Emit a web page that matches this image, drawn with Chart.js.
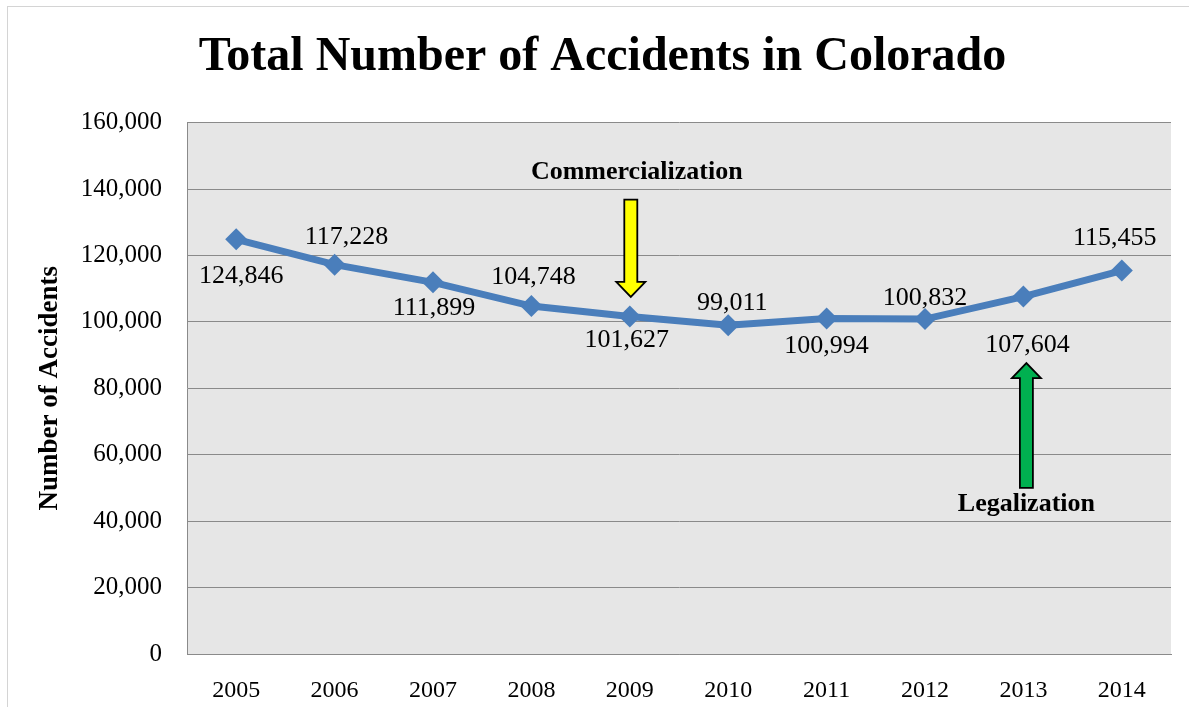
<!DOCTYPE html>
<html>
<head>
<meta charset="utf-8">
<script src="https://cdn.jsdelivr.net/npm/chart.js@4/dist/chart.umd.min.js"></script>
<style>
  html, body { margin: 0; padding: 0; background: #ffffff; }
  #wrap { width: 1189px; height: 707px; position: relative; }
</style>
</head>
<body>
<div id="wrap"><canvas id="c" width="1189" height="707"></canvas></div>
<script>
// ---- data ----
const years = ['2005', '2006', '2007', '2008', '2009', '2010', '2011', '2012', '2013', '2014'];
const accidents = [124846, 117228, 111899, 104748, 101627, 99011, 100994, 100832, 107604, 115455];
const yTicks = [0, 20000, 40000, 60000, 80000, 100000, 120000, 140000, 160000];
const chartTitle = 'Total Number of Accidents in Colorado';
const yAxisTitle = 'Number of Accidents';

// annotations: label, year it points at, arrow tail value, arrow tip value, text value
const noteLabels = ['Commercialization', 'Legalization'];
const noteYears = ['2009', '2013'];
const noteTail = [136800, 50000];
const noteTip = [107500, 87600];
const noteTextAt = [145000, 45000];

// ---- styling (not data) ----
const SERIF = '"Liberation Serif", "Times New Roman", serif';
const LINE_COLOR = '#4a7ebb';
const GRID_COLOR = '#8a8a8a';
const labelNudge = [[5, 37], [12, -27], [1, 26], [2, -29], [-3, 24], [4, -22], [0, 28], [0, -21], [4, 49], [-7, -32]];
const noteStyle = [
  { fill: '#ffff00', textDx: 7, arrowDx: 1 },
  { fill: '#00b050', textDx: 3, arrowDx: 3 }
];

const fmt = v => v.toLocaleString('en-US');

const bgPlugin = {
  id: 'bg',
  beforeDraw(chart) {
    const { ctx, chartArea: a } = chart;
    ctx.save();
    ctx.fillStyle = '#e6e6e6';
    ctx.fillRect(a.left, a.top, a.right - a.left, a.bottom - a.top);
    // outer chart frame
    ctx.strokeStyle = '#d4d4d4';
    ctx.lineWidth = 1;
    ctx.strokeRect(7.5, 6.5, 1200, 720);
    ctx.restore();
  }
};

function drawArrow(ctx, x, yTail, yTip, fill) {
  const shaftHalf = 6.5, headHalf = 14.5;
  const dir = yTip > yTail ? 1 : -1;
  const headLen = 15 * dir;
  const yBase = yTip - headLen;
  ctx.beginPath();
  ctx.moveTo(x - shaftHalf, yTail);
  ctx.lineTo(x + shaftHalf, yTail);
  ctx.lineTo(x + shaftHalf, yBase);
  ctx.lineTo(x + headHalf, yBase);
  ctx.lineTo(x, yTip);
  ctx.lineTo(x - headHalf, yBase);
  ctx.lineTo(x - shaftHalf, yBase);
  ctx.closePath();
  ctx.fillStyle = fill;
  ctx.fill();
  ctx.lineWidth = 1.8;
  ctx.strokeStyle = '#000000';
  ctx.stroke();
}

const annotPlugin = {
  id: 'annot',
  afterDatasetsDraw(chart) {
    const { ctx } = chart;
    const xs = chart.scales.x, ys = chart.scales.y;
    ctx.save();
    // data labels
    const meta = chart.getDatasetMeta(0);
    ctx.font = '26px ' + SERIF;
    ctx.fillStyle = '#000000';
    ctx.textAlign = 'center';
    ctx.textBaseline = 'middle';
    meta.data.forEach((pt, i) => {
      const n = labelNudge[i];
      ctx.fillText(fmt(accidents[i]), pt.x + n[0], pt.y + n[1]);
    });
    // arrows and notes
    noteLabels.forEach((txt, i) => {
      const x = xs.getPixelForValue(years.indexOf(noteYears[i]));
      const st = noteStyle[i];
      drawArrow(ctx, x + st.arrowDx, ys.getPixelForValue(noteTail[i]), ys.getPixelForValue(noteTip[i]), st.fill);
      ctx.font = 'bold 26px ' + SERIF;
      ctx.fillStyle = '#000000';
      ctx.textAlign = 'center';
      ctx.textBaseline = 'middle';
      ctx.fillText(txt, x + st.textDx, ys.getPixelForValue(noteTextAt[i]));
    });
    ctx.restore();
  }
};

new Chart(document.getElementById('c'), {
  type: 'line',
  data: {
    labels: years,
    datasets: [{
      data: accidents,
      borderColor: LINE_COLOR,
      backgroundColor: LINE_COLOR,
      borderWidth: 7,
      pointStyle: 'rectRot',
      pointRadius: 11,
      pointHoverRadius: 11,
      pointBorderWidth: 0,
      pointBackgroundColor: LINE_COLOR,
      tension: 0,
      fill: false
    }]
  },
  options: {
    responsive: false,
    animation: false,
    devicePixelRatio: 1,
    layout: { padding: { left: 34, right: 18, top: 0, bottom: 0 } },
    plugins: {
      legend: { display: false },
      tooltip: { enabled: false },
      title: {
        display: true,
        text: chartTitle,
        color: '#000000',
        font: { family: SERIF, size: 48, weight: 'bold', lineHeight: 1.2 },
        padding: { top: 29, bottom: 36 }
      }
    },
    scales: {
      x: {
        offset: true,
        grid: { display: false, drawTicks: false },
        border: { display: true, color: GRID_COLOR, width: 1 },
        ticks: { color: '#000000', font: { family: SERIF, size: 24 }, padding: 22, maxRotation: 0 },
        afterFit(scale) { scale.height = 53; }
      },
      y: {
        min: 0,
        max: 160000,
        afterBuildTicks(scale) { scale.ticks = yTicks.map(v => ({ value: v })); },
        grid: { color: GRID_COLOR, lineWidth: 1, drawTicks: false },
        border: { display: true, color: GRID_COLOR, width: 1 },
        ticks: { color: '#000000', font: { family: SERIF, size: 25 }, padding: 25, callback: v => fmt(v) },
        title: {
          display: true,
          text: yAxisTitle,
          color: '#000000',
          font: { family: SERIF, size: 27, weight: 'bold', lineHeight: 1.2 },
          padding: { top: 0, bottom: 0 }
        },
        afterFit(scale) { scale.width = 153; }
      }
    }
  },
  plugins: [bgPlugin, annotPlugin]
});
</script>
</body>
</html>
